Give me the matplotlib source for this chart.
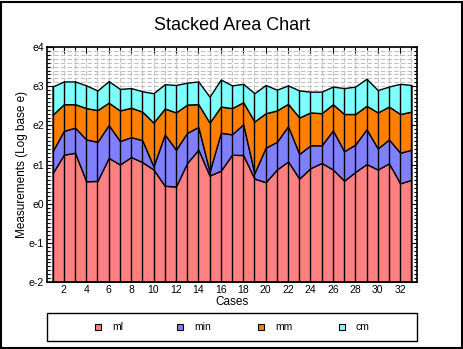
import numpy as np
import matplotlib
matplotlib.use("Agg")
import matplotlib.pyplot as plt
from matplotlib.patches import Rectangle
from matplotlib.ticker import FixedLocator, FuncFormatter

plt.rcParams['font.family'] = ['Liberation Sans', 'DejaVu Sans']

# 数据：每个 case 的四个分量（非累计值）
cases = np.arange(1, 34)
ml = [2.18, 3.49, 3.67, 1.77, 1.79, 3.22, 2.72, 3.29, 2.89, 2.39, 1.58,
      1.55, 2.83, 3.97, 2.05, 2.32, 3.49, 3.46, 1.90, 1.73, 2.39, 2.94,
      1.90, 2.48, 2.83, 2.39, 1.80, 2.25, 2.75, 2.39, 2.80, 1.68, 1.84]
mn = [1.64, 2.93, 3.29, 3.39, 3.06, 4.24, 2.23, 2.18, 2.16, 0.20, 4.29,
      2.42, 3.28, 3.13, 0.22, 3.79, 2.38, 4.15, 0.28, 2.45, 2.46, 4.30,
      1.66, 1.96, 1.61, 4.10, 2.02, 2.28, 3.94, 1.71, 2.36, 1.99, 2.13]
mm = [5.86, 6.26, 5.72, 6.31, 6.06, 5.74, 5.85, 6.12, 5.44, 5.33, 5.49,
      6.31, 6.44, 5.58, 5.65, 5.83, 5.60, 5.72, 5.99, 5.89, 5.95, 5.57,
      5.47, 5.84, 5.63, 6.19, 6.05, 5.34, 5.49, 6.18, 6.78, 6.20, 6.52]
cm = [10.2, 9.97, 9.97, 9.02, 7.08, 9.67, 7.93, 7.52, 7.15, 8.86, 9.76,
      10.42, 9.43, 9.97, 7.41, 11.87, 9.02, 8.00, 8.61, 10.63, 7.56, 7.68,
      8.96, 7.18, 7.39, 7.21, 9.24, 10.02, 12.11, 7.89, 7.95, 11.46, 10.21]
series_names = ['ml', 'min', 'mm', 'cm']
colors = ['#FF8080', '#8080FF', '#FF8000', '#80FFFF']

ymin, ymax = np.exp(-2), np.exp(4)

fig = plt.figure(figsize=(4.64, 3.49), dpi=100)
ax = fig.add_axes([47 / 464, 1 - 282 / 349, 370 / 464, 235 / 349])
ax.set_yscale('log', base=np.e)

# 堆叠面积
layers = np.array([ml, mn, mm, cm])
cum = np.cumsum(layers, axis=0)
bottom = np.full(len(cases), ymin)
for i in range(4):
    ax.fill_between(cases, bottom, cum[i], facecolor=colors[i],
                    edgecolor='black', linewidth=1, zorder=2)
    bottom = cum[i]
ax.vlines(cases, ymin, cum[-1], colors='black', linewidth=1, zorder=3)

ax.set_xlim(0.5, 33.5)
ax.set_ylim(ymin, ymax)

# 刻度
ax.set_xticks(np.arange(2, 33, 2))
ax.set_xticks(cases, minor=True)
ax.yaxis.set_major_locator(FixedLocator(np.exp(np.arange(-2, 5))))
minor_y = [np.exp(n + k / 10) for n in range(-2, 4) for k in range(1, 10)]
ax.yaxis.set_minor_locator(FixedLocator(minor_y))
ax.yaxis.set_major_formatter(FuncFormatter(lambda v, p: f"e{int(round(np.log(v)))}"))
ax.yaxis.set_minor_formatter(FuncFormatter(lambda v, p: ""))
ax.tick_params(axis='both', which='both', direction='in', top=True, right=True,
               labelsize=7.5, pad=2, width=0.8)
ax.tick_params(which='major', length=4)
ax.tick_params(which='minor', length=2)

ax.grid(True, which='both', color='#C0C0C0', linestyle=(0, (4, 2)), linewidth=0.8, zorder=0)
ax.set_axisbelow(True)
for s in ax.spines.values():
    s.set_linewidth(1.2)

ax.set_title('Stacked Area Chart', fontsize=13, pad=12)
ax.set_xlabel('Cases', fontsize=8.5, labelpad=1)
ax.set_ylabel('Measurements (Log base e)', fontsize=8.5, labelpad=1)

# 图例框
fig.patches.append(Rectangle((47 / 464, 1 - 341 / 349), 370 / 464, 28 / 349,
                             transform=fig.transFigure, facecolor='white',
                             edgecolor='black', linewidth=1))
leg_x = [95, 177, 258, 339]
for xs, name, c in zip(leg_x, series_names, colors):
    fig.patches.append(Rectangle((xs / 464, 1 - 330 / 349), 6 / 464, 6 / 349,
                                 transform=fig.transFigure, facecolor=c,
                                 edgecolor='black', linewidth=0.8))
    fig.text((xs + 17) / 464, 1 - 327 / 349, name, fontsize=7.5, va='center')

# 外框
fig.patches.append(Rectangle((0.002, 0.004), 0.994, 0.99, transform=fig.transFigure,
                             facecolor='none', edgecolor='black', linewidth=1.5))

fig.savefig('out.png', dpi=100)
